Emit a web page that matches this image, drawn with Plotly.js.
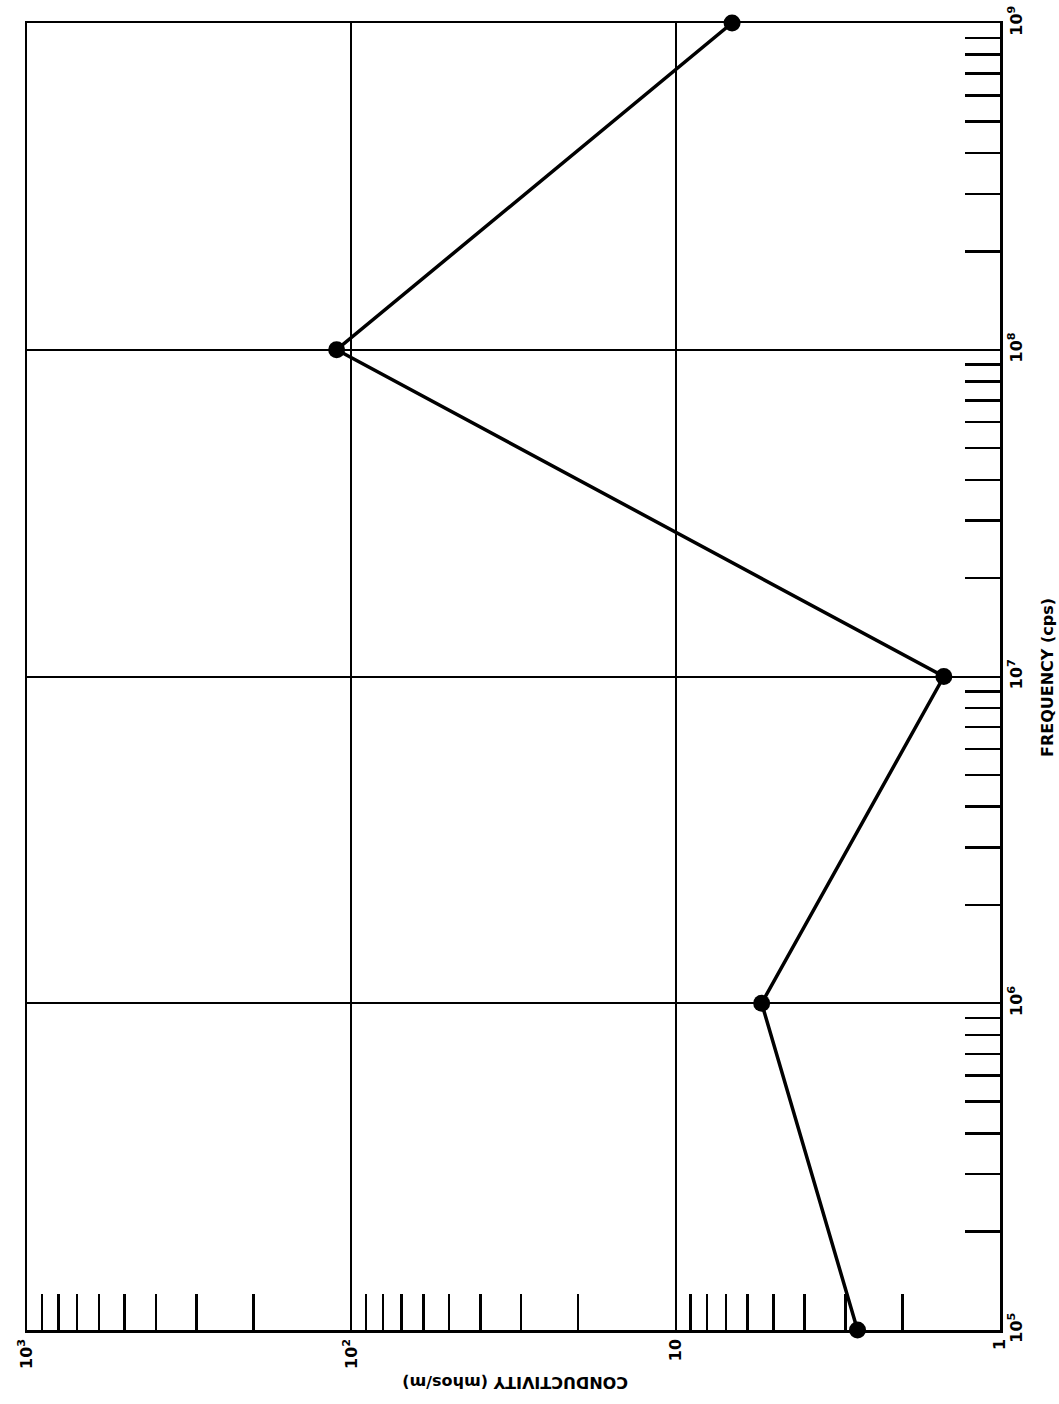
<!DOCTYPE html>
<html>
<head>
<meta charset="utf-8">
<script src="https://cdn.plot.ly/plotly-3.0.1.min.js"></script>
<style>html,body{margin:0;padding:0;background:#fff;}#chart{width:1059px;height:1404px;}</style>
</head>
<body>
<div id="chart"></div>
<script>
// Data
var frequency = [1e5, 1e6, 1e7, 1e8, 1e9];          // cps
var conductivity = [2.75, 5.43, 1.49, 111, 6.7];    // mhos/m

// Tick labels
var condTickVals = [1000, 100, 10, 1];
var condTickText = ['10<sup>3</sup>', '10<sup>2</sup>', '10', '1'];
var freqTickVals = [1e5, 1e6, 1e7, 1e8, 1e9];
var freqTickText = ['10<sup>5</sup>', '10<sup>6</sup>', '10<sup>7</sup>', '10<sup>8</sup>', '10<sup>9</sup>'];

function minorVals(decades) {
  var out = [];
  decades.forEach(function (d) { for (var m = 2; m <= 9; m++) out.push(m * d); });
  return out;
}
var condMinor = minorVals([1, 10, 100]);
var freqMinor = minorVals([1e5, 1e6, 1e7, 1e8]);

var tickFont = {family: 'DejaVu Sans, sans-serif', size: 16, color: '#000', weight: 'bold'};
var titleFont = {family: 'DejaVu Sans, sans-serif', size: 16, color: '#000', weight: 'bold'};

var trace = {
  x: conductivity,
  y: frequency,
  type: 'scatter',
  mode: 'lines+markers',
  line: {color: '#000', width: 3.5},
  marker: {color: '#000', size: 17},
  cliponaxis: false,
  hoverinfo: 'skip'
};

var layout = {
  width: 1059,
  height: 1404,
  margin: {l: 27, r: 59, t: 23, b: 74},
  paper_bgcolor: '#fff',
  plot_bgcolor: '#fff',
  showlegend: false,
  xaxis: {
    type: 'log',
    range: [3, 0],
    autorange: false,
    tickvals: condTickVals,
    ticktext: condTickText,
    tickangle: -90,
    tickfont: tickFont,
    ticks: '',
    showgrid: true,
    gridcolor: '#000',
    gridwidth: 2,
    showline: true,
    linecolor: '#000',
    linewidth: 2.5,
    mirror: true,
    zeroline: false,
    minor: {tickvals: condMinor, ticks: 'inside', ticklen: 36, tickwidth: 2.5, tickcolor: '#000', showgrid: false}
  },
  yaxis: {
    type: 'log',
    side: 'right',
    range: [5, 9],
    autorange: false,
    tickvals: freqTickVals,
    ticktext: freqTickText,
    tickangle: -90,
    tickfont: tickFont,
    ticks: '',
    showgrid: true,
    gridcolor: '#000',
    gridwidth: 2,
    showline: true,
    linecolor: '#000',
    linewidth: 2.5,
    mirror: true,
    zeroline: false,
    minor: {tickvals: freqMinor, ticks: 'inside', ticklen: 35, tickwidth: 2.5, tickcolor: '#000', showgrid: false}
  },
  annotations: [
    {
      text: 'CONDUCTIVITY (mhos/m)',
      xref: 'paper', yref: 'paper',
      x: (515 - 27) / (1000 - 27), y: -(1383 - 1330) / (1330 - 23),
      xanchor: 'center', yanchor: 'middle',
      textangle: 180,
      showarrow: false,
      font: titleFont
    },
    {
      text: 'FREQUENCY (cps)',
      xref: 'paper', yref: 'paper',
      x: 1 + (1047 - 1000) / (1000 - 27), y: (1330 - 678) / (1330 - 23),
      xanchor: 'center', yanchor: 'middle',
      textangle: -90,
      showarrow: false,
      font: titleFont
    }
  ]
};

Plotly.newPlot('chart', [trace], layout, {displayModeBar: false, staticPlot: true});
</script>
</body>
</html>
